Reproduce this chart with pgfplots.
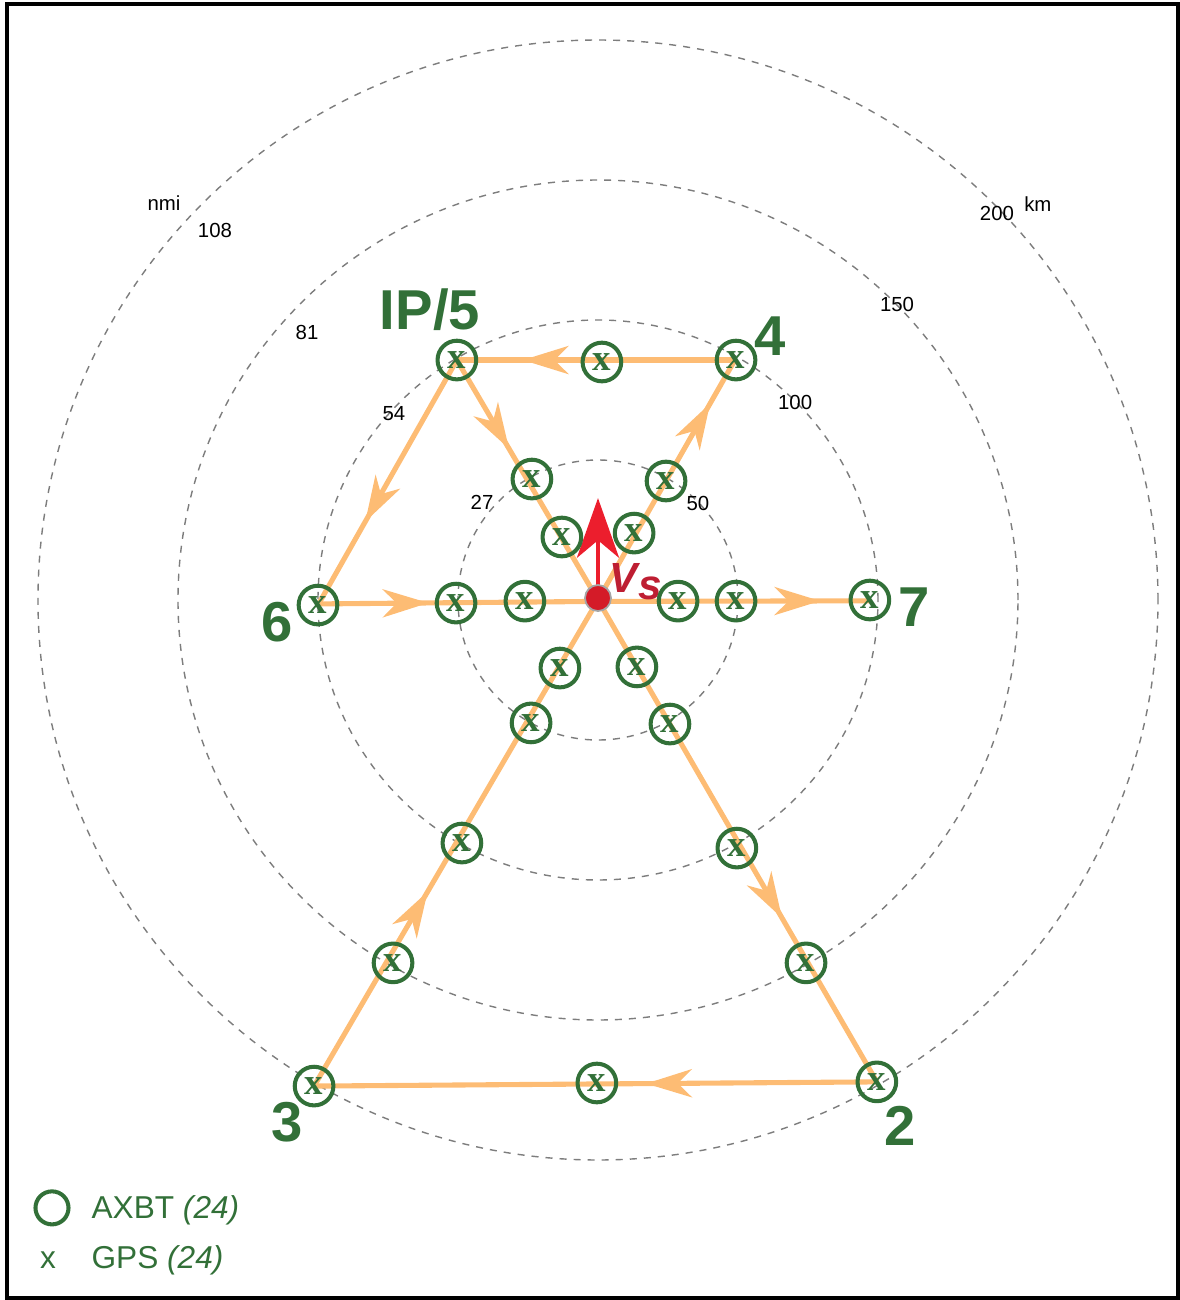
\documentclass[border=0pt]{standalone}
\usepackage{pgfplots}
\pgfplotsset{compat=1.18}
\usepackage{fontspec}
\setmainfont{Liberation Sans}
\newfontfamily\serifx{Liberation Serif}
\usetikzlibrary{arrows.meta,decorations.markings}
\definecolor{axgreen}{RGB}{50,112,56}
\definecolor{trackorange}{RGB}{253,188,116}
\definecolor{ringgray}{RGB}{125,125,125}
\definecolor{vred}{RGB}{236,30,45}
\definecolor{vdark}{RGB}{190,30,50}

\pgfplotstableread{
x y
-50.4 85.7
1.4 85.0
49.3 85.7
-23.6 43.2
24.3 42.5
-12.9 22.5
12.9 23.9
-100 -1.8
-50.7 -1.1
-26.1 -0.4
28.6 -0.4
49.3 -0.4
97.1 0
-13.6 -24.3
13.9 -23.9
-23.9 -43.9
25.7 -44.3
-48.6 -86.8
49.6 -88.6
-73.2 -129.6
74.3 -129.6
-101.4 -173.6
-0.4 -172.5
99.6 -172.1
}\stations

\tikzset{
  trk/.style={trackorange, line width=1.45pt},
  arr/.style={postaction={decorate}, decoration={markings, mark=at position #1 with {\arrow{Stealth[length=13pt,width=8pt,inset=4pt]}}}},
}

\begin{document}
\begin{tikzpicture}
\begin{axis}[
  width=11.8cm, height=13cm, scale only axis,
  xmin=-213.57, xmax=207.86, ymin=-250, ymax=214.29,
  hide axis, clip=false,
]
\path (rel axis cs:0,0) rectangle (rel axis cs:1,1);
% frame
\draw[line width=1.1pt] (axis cs:-211.07,212.9) rectangle (axis cs:207.14,-249.29);
% range rings
\pgfplotsinvokeforeach{50,100,150,200}{
  \draw[ringgray, line width=0.4pt, dash pattern=on 2pt off 2pt] (axis cs:0,0) circle [radius=#1];
}
% ring labels
\begin{scope}[font=\fontsize{5.8}{7}\selectfont]
\node at (axis cs:-41.4,35) {27};
\node at (axis cs:35.7,34.6) {50};
\node at (axis cs:-72.9,66.4) {54};
\node at (axis cs:70.4,70.4) {100};
\node at (axis cs:-103.9,95.4) {81};
\node at (axis cs:106.8,105.7) {150};
\node at (axis cs:-136.8,132.1) {108};
\node at (axis cs:142.5,138.2) {200};
\node at (axis cs:157.1,141.4) {km};
\node at (axis cs:-155,141.8) {nmi};
\end{scope}
% track
\addplot[trk, arr=0.37] coordinates {(-50.4,85.7) (0,0)};
\addplot[trk, arr=0.66] coordinates {(0,0) (99.6,-172.1)};
\addplot[trk, arr=0.41] coordinates {(99.6,-172.1) (-101.4,-173.6)};
\addplot[trk, arr=0.40] coordinates {(-101.4,-173.6) (0,0)};
\addplot[trk, arr=0.82] coordinates {(0,0) (48.9,85.7)};
\addplot[trk, arr=0.763] coordinates {(48.9,85.7) (-50.4,85.7)};
\addplot[trk, arr=0.66] coordinates {(-50.4,85.7) (-100,-1.8)};
\addplot[trk, postaction={decorate}, decoration={markings,
  mark=at position 0.2 with {\arrow{Stealth[length=13pt,width=8pt,inset=4pt]}},
  mark=at position 0.91 with {\arrow{Stealth[length=13pt,width=8pt,inset=4pt]}}}]
  coordinates {(-100,-1.4) (0,-0.5) (97.1,-0.3)};
% stations
\addplot[only marks, mark=o, mark size=5.5pt, mark options={axgreen, line width=1.15pt}] table {\stations};
\addplot[only marks, mark=text, text mark={x}, text mark as node=true,
  text mark style={text=axgreen, inner sep=0pt, font=\serifx\bfseries\fontsize{10.5}{11}\selectfont}] table {\stations};
% ship velocity
\addplot[vred, line width=1.2pt, -{Stealth[length=17pt,width=12pt,inset=5pt]}] coordinates {(0,0) (0,36.4)};
\addplot[only marks, mark=*, mark size=3.7pt, mark options={fill=vred!90!black, draw=gray!70, line width=0.5pt}] coordinates {(0,0.7)};
\node[text=vdark, font=\bfseries\itshape\fontsize{12}{13}\selectfont] at (axis cs:13.5,6.5) {V\raisebox{-0.3ex}{s}};
% big labels
\begin{scope}[text=axgreen, inner sep=0pt, font=\bfseries\fontsize{16}{18}\selectfont]
\node at (axis cs:-60.0,103.6) {IP/5};
\node at (axis cs:61.4,94.3) {4};
\node at (axis cs:-114.6,-7.9) {6};
\node at (axis cs:112.9,-2.5) {7};
\node at (axis cs:-111.1,-186.4) {3};
\node at (axis cs:107.9,-187.9) {2};
\end{scope}
% legend
\addplot[only marks, mark=o, mark size=4.7pt, mark options={axgreen, line width=1.15pt}] coordinates {(-195,-217.1)};
\begin{scope}[text=axgreen, font=\fontsize{9}{11}\selectfont]
\node[anchor=west] at (axis cs:-185.3,-217.9) {AXBT \textit{(24)}};
\node at (axis cs:-196.4,-235.9) {x};
\node[anchor=west] at (axis cs:-185.3,-235.7) {GPS \textit{(24)}};
\end{scope}
\end{axis}
\end{tikzpicture}
\end{document}
